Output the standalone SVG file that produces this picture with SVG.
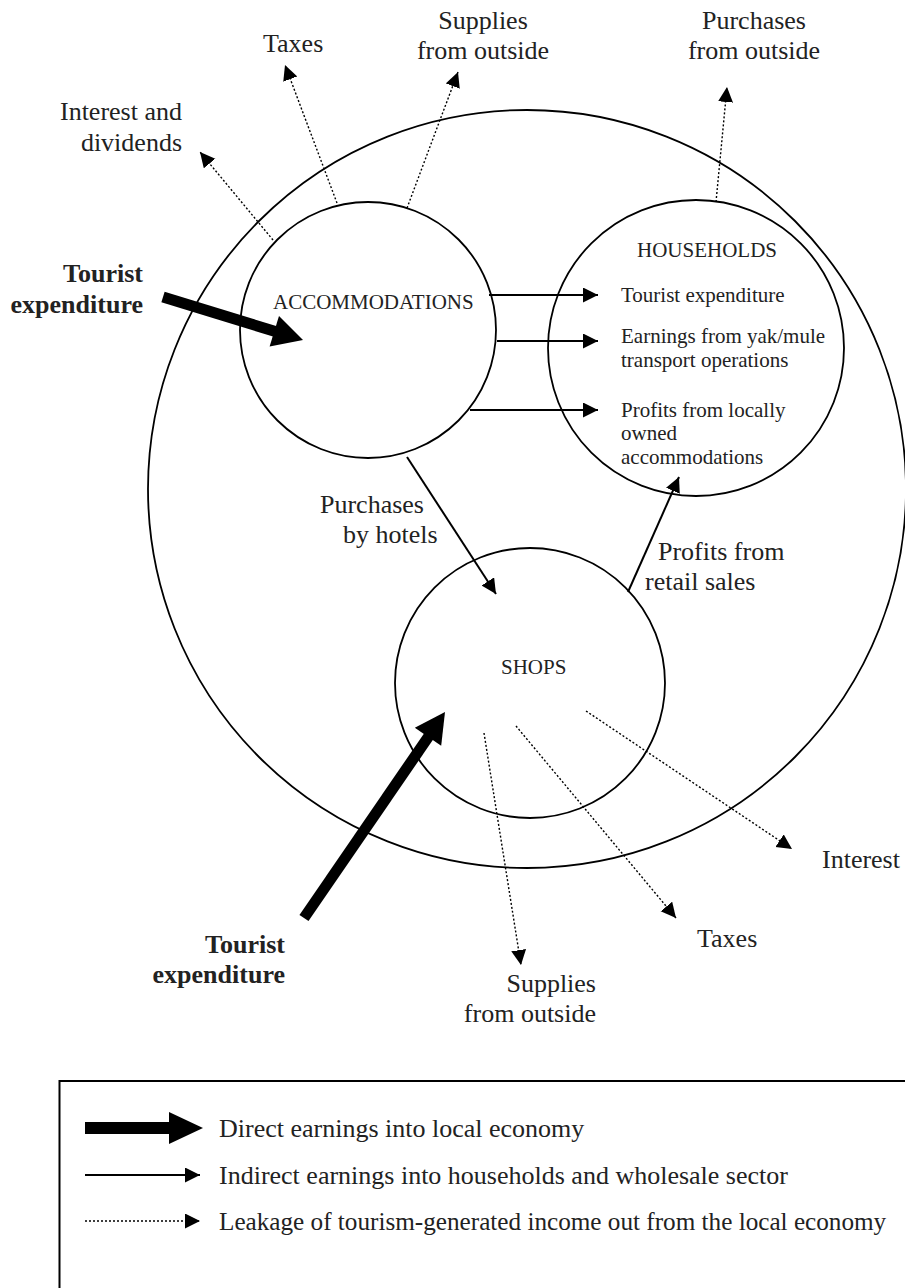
<svg xmlns="http://www.w3.org/2000/svg" width="905" height="1288" viewBox="0 0 905 1288">
<defs>
<style>
.node{fill:none;stroke:#000;stroke-width:1.8}
.lbl{font-family:"Liberation Serif","Times New Roman",serif;fill:#222}
.big{font-size:26px}
.small{font-size:21px}
.bold{font-weight:bold}
.end{text-anchor:end}
.mid{text-anchor:middle}
.solid{stroke:#000;stroke-width:2;fill:none}
.dot{stroke:#000;stroke-width:1.4;stroke-dasharray:2 2;fill:none}
.thick{stroke:#000;stroke-width:11;fill:none}
</style>
<marker id="ah" markerUnits="userSpaceOnUse" markerWidth="16" markerHeight="16" refX="15" refY="7.5" orient="auto" viewBox="0 0 16 16"><path d="M0,0 L15,7.5 L0,15 z" fill="#000"/></marker>
</defs>
<rect x="0" y="0" width="905" height="1288" fill="#fff"/>

<g id="local-economy">
<circle class="node" cx="527" cy="489" r="379" stroke-width="2"/>
</g>
<g id="accommodations">
<circle class="node" cx="368" cy="330" r="128"/>
<text class="lbl small" x="273" y="309">ACCOMMODATIONS</text>
</g>
<g id="households">
<circle class="node" cx="696" cy="348" r="148"/>
<text class="lbl small" x="637" y="257">HOUSEHOLDS</text>
<text class="lbl small" x="621" y="302">Tourist expenditure</text>
<text class="lbl small" x="621" y="343">Earnings from yak/mule</text>
<text class="lbl small" x="621" y="367">transport operations</text>
<text class="lbl small" x="621" y="417">Profits from locally</text>
<text class="lbl small" x="621" y="440">owned</text>
<text class="lbl small" x="621" y="464">accommodations</text>
</g>
<g id="shops">
<circle class="node" cx="530" cy="683" r="135"/>
<text class="lbl small" x="501" y="674">SHOPS</text>
</g>

<g id="connectors">
<!-- direct earnings -->
<line class="thick" x1="163" y1="297" x2="277" y2="332"/>
<polygon points="303,340 279,315.9 269.6,346.5" fill="#000"/>
<line class="thick" x1="304" y1="918" x2="431" y2="733"/>
<polygon points="445,712 414.8,727.8 441.2,745.8" fill="#000"/>
<!-- indirect -->
<line class="solid" x1="489" y1="295" x2="598" y2="295" marker-end="url(#ah)"/>
<line class="solid" x1="497" y1="341" x2="598" y2="341" marker-end="url(#ah)"/>
<line class="solid" x1="470" y1="410" x2="598" y2="410" marker-end="url(#ah)"/>
<line class="solid" x1="407" y1="457" x2="496" y2="594" marker-end="url(#ah)"/>
<line class="solid" x1="628" y1="592" x2="679" y2="477" marker-end="url(#ah)"/>
<!-- leakages -->
<line class="dot" x1="273" y1="240" x2="200" y2="152" marker-end="url(#ah)"/>
<line class="dot" x1="337" y1="203" x2="285" y2="65" marker-end="url(#ah)"/>
<line class="dot" x1="407" y1="208" x2="458" y2="72" marker-end="url(#ah)"/>
<line class="dot" x1="716" y1="202" x2="727" y2="87" marker-end="url(#ah)"/>
<line class="dot" x1="484" y1="733" x2="521" y2="965" marker-end="url(#ah)"/>
<line class="dot" x1="516" y1="726" x2="676" y2="918" marker-end="url(#ah)"/>
<line class="dot" x1="586" y1="711" x2="792" y2="849" marker-end="url(#ah)"/>
</g>

<g id="labels">
<text class="lbl big" x="263" y="52">Taxes</text>
<text class="lbl big mid" x="483" y="29">Supplies</text>
<text class="lbl big mid" x="483" y="59">from outside</text>
<text class="lbl big mid" x="754" y="29">Purchases</text>
<text class="lbl big mid" x="754" y="59">from outside</text>
<text class="lbl big end" x="182" y="120">Interest and</text>
<text class="lbl big end" x="182" y="151">dividends</text>
<text class="lbl big bold end" x="143" y="282">Tourist</text>
<text class="lbl big bold end" x="143" y="313">expenditure</text>
<text class="lbl big" x="320" y="513">Purchases</text>
<text class="lbl big" x="343" y="543">by hotels</text>
<text class="lbl big" x="658" y="560">Profits from</text>
<text class="lbl big" x="645" y="590">retail sales</text>
<text class="lbl big" x="822" y="868">Interest</text>
<text class="lbl big" x="697" y="947">Taxes</text>
<text class="lbl big end" x="596" y="992">Supplies</text>
<text class="lbl big end" x="596" y="1022">from outside</text>
<text class="lbl big bold end" x="285" y="953">Tourist</text>
<text class="lbl big bold end" x="285" y="983">expenditure</text>
</g>

<g id="legend">
<rect x="59.5" y="1081" width="900" height="260" fill="none" stroke="#000" stroke-width="2"/>
<rect x="85" y="1122" width="86" height="12" fill="#000"/>
<polygon points="169,1112 203,1128 169,1144" fill="#000"/>
<text class="lbl big" x="219" y="1137">Direct earnings into local economy</text>
<line class="solid" x1="85" y1="1175" x2="200" y2="1175" marker-end="url(#ah)"/>
<text class="lbl big" x="219" y="1184">Indirect earnings into households and wholesale sector</text>
<line class="dot" x1="85" y1="1221" x2="200" y2="1221" stroke-width="1.2" stroke-dasharray="1.5 1.5" marker-end="url(#ah)"/>
<text class="lbl" x="219" y="1230" font-size="25.2">Leakage of tourism-generated income out from the local economy</text>
</g>
</svg>
